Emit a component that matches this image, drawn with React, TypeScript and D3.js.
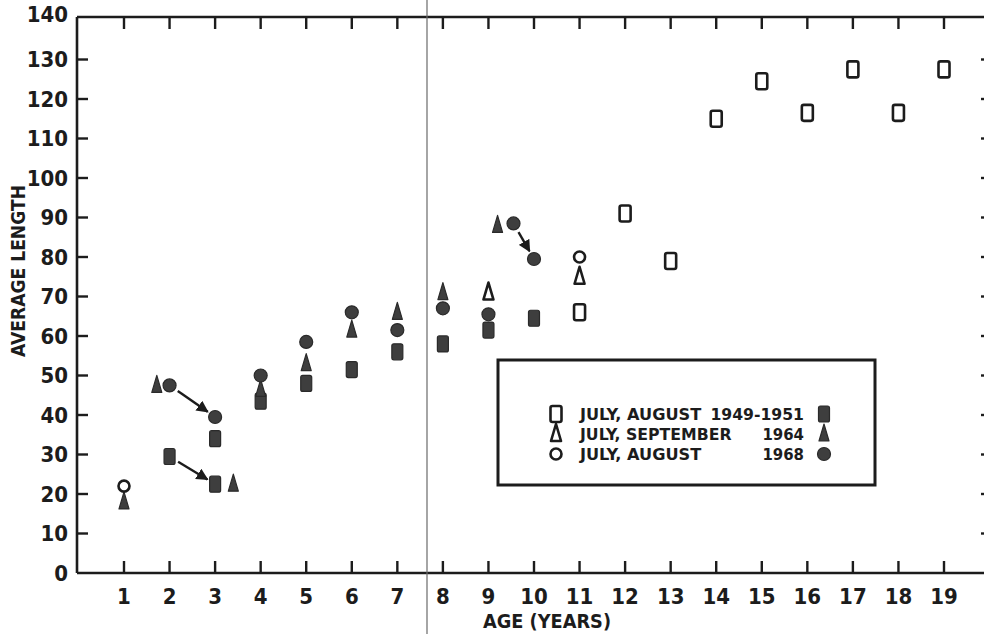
import React from 'react';
import * as d3 from 'd3';

// [age, average length]
const squaresOpen1951: [number, number][] = [
  [11, 66], [12, 91], [13, 79], [14, 115], [15, 124.5], [16, 116.5], [17, 127.5], [18, 116.5], [19, 127.5],
];
const squaresFilled1951: [number, number][] = [
  [2, 29.5], [3, 22.5], [3, 34], [4, 43.5], [5, 48], [6, 51.5], [7, 56], [8, 58], [9, 61.5], [10, 64.5],
];
const trianglesOpen1964: [number, number][] = [[9, 71], [11, 75]];
const trianglesFilled1964: [number, number][] = [
  [1, 18], [1.72, 47.5], [3.4, 22.5], [4, 46.5], [5, 53], [6, 61.5], [7, 66], [8, 71], [9.2, 88],
];
const circlesOpen1968: [number, number][] = [[1, 22], [11, 80]];
const circlesFilled1968: [number, number][] = [
  [2, 47.5], [3, 39.5], [4, 50], [5, 58.5], [6, 66], [7, 61.5], [8, 67], [9, 65.5], [9.55, 88.5], [10, 79.5],
];
// shift arrows: from -> to
const arrows: [[number, number], [number, number]][] = [
  [[2, 47.5], [3, 39.5]],
  [[2, 29.5], [3, 22.5]],
  [[9.55, 88.5], [10, 79.5]],
];

const ageTicks = d3.range(1, 20);
const lengthTicks = d3.range(0, 150, 10);
const legendRows = [
  { shape: 'square', label: 'JULY, AUGUST', years: '1949-1951' },
  { shape: 'triangle', label: 'JULY, SEPTEMBER', years: '1964' },
  { shape: 'circle', label: 'JULY, AUGUST', years: '1968' },
];

const INK = '#1c1c1c';
const FILL = '#3e3e3e';
const FONT = "'DejaVu Sans Condensed', 'DejaVu Sans', sans-serif";

const x = d3.scaleLinear().domain([1, 19]).range([124, 944]);
const y = d3.scaleLinear().domain([0, 140]).range([573, 20]);

const triPath = 'M0,-10 L5,7 L-5,7 Z';

function Marker({ shape, filled, cx, cy }: { shape: string; filled: boolean; cx: number; cy: number }) {
  const fill = filled ? FILL : '#fff';
  const stroke = filled ? '#2a2a2a' : INK;
  const sw = filled ? 1.2 : 2.6;
  if (shape === 'square') {
    return <rect x={cx - 5.5} y={cy - 8} width={11} height={16} rx={2} fill={fill} stroke={stroke} strokeWidth={sw} />;
  }
  if (shape === 'triangle') {
    return <path d={triPath} transform={`translate(${cx},${cy})`} fill={fill} stroke={stroke} strokeWidth={sw} strokeLinejoin="round" />;
  }
  return <circle cx={cx} cy={cy} r={filled ? 6.5 : 5.5} fill={fill} stroke={stroke} strokeWidth={sw} />;
}

export default function App() {
  const series = [
    { data: squaresFilled1951, shape: 'square', filled: true },
    { data: trianglesFilled1964, shape: 'triangle', filled: true },
    { data: circlesFilled1968, shape: 'circle', filled: true },
    { data: squaresOpen1951, shape: 'square', filled: false },
    { data: trianglesOpen1964, shape: 'triangle', filled: false },
    { data: circlesOpen1968, shape: 'circle', filled: false },
  ];

  const left = 77, right = 990, top = 17, bottom = y(0);

  return (
    <svg width={984} height={634} style={{ position: 'absolute', left: 0, top: 0, background: '#fff' }}>
      <defs>
        <marker id="ah" viewBox="0 0 10 10" refX={9} refY={5} markerWidth={5} markerHeight={5} orient="auto">
          <path d="M0,0 L10,5 L0,10 Z" fill={INK} />
        </marker>
      </defs>

      {/* frame */}
      <g stroke={INK} strokeWidth={2.6} fill="none">
        <line x1={left} x2={right} y1={top} y2={top} />
        <line x1={left} x2={right} y1={bottom} y2={bottom} />
        <line x1={left} x2={left} y1={top} y2={bottom} />
        <line x1={right} x2={right} y1={top} y2={bottom} />
      </g>
      <g stroke={INK} strokeWidth={2.4}>
        {ageTicks.map(a => (
          <g key={a}>
            <line x1={x(a)} x2={x(a)} y1={bottom} y2={bottom - 12} />
            <line x1={x(a)} x2={x(a)} y1={top} y2={top + 12} />
          </g>
        ))}
        {lengthTicks.filter(v => v > 0 && v < 140).map(v => (
          <g key={v}>
            <line x1={left} x2={left + 11} y1={y(v)} y2={y(v)} />
            <line x1={right} x2={right - 9} y1={y(v)} y2={y(v)} />
          </g>
        ))}
      </g>

      {/* tick labels */}
      <g fontFamily={FONT} fontWeight="bold" fontSize={22} fill={INK}>
        {ageTicks.map(a => (
          <text key={a} x={x(a)} y={596} textAnchor="middle" dominantBaseline="central">{a}</text>
        ))}
        {lengthTicks.map(v => (
          <text key={v} x={68} y={v === 140 ? 14 : y(v)} textAnchor="end" dominantBaseline="central">{v}</text>
        ))}
      </g>

      {/* axis titles */}
      <text x={547} y={621} textAnchor="middle" dominantBaseline="central" fontFamily={FONT} fontWeight="bold"
        fontSize={20} fill={INK} textLength={128} lengthAdjust="spacingAndGlyphs">AGE (YEARS)</text>
      <text transform="translate(18,271) rotate(-90)" textAnchor="middle" dominantBaseline="central" fontFamily={FONT}
        fontWeight="bold" fontSize={20} fill={INK} textLength={172} lengthAdjust="spacingAndGlyphs">AVERAGE LENGTH</text>

      {/* scan fold line */}
      <line x1={427} x2={427} y1={0} y2={634} stroke="#6a6a6a" strokeWidth={1.2} />

      {/* arrows */}
      <g stroke={INK} strokeWidth={2.4} fill="none">
        {arrows.map(([f, t], i) => {
          const x1 = x(f[0]), y1 = y(f[1]), x2 = x(t[0]), y2 = y(t[1]);
          const len = Math.hypot(x2 - x1, y2 - y1);
          const ux = (x2 - x1) / len, uy = (y2 - y1) / len;
          const s = 10, e = 9;
          return <line key={i} x1={x1 + ux * s} y1={y1 + uy * s} x2={x2 - ux * e} y2={y2 - uy * e} markerEnd="url(#ah)" />;
        })}
      </g>

      {/* points */}
      {series.map((s, i) => (
        <g key={i}>
          {s.data.map(([a, v], j) => (
            <Marker key={j} shape={s.shape} filled={s.filled} cx={x(a)} cy={y(v)} />
          ))}
        </g>
      ))}

      {/* legend */}
      <rect x={498} y={360} width={377} height={125} fill="#fff" stroke={INK} strokeWidth={3} />
      {legendRows.map((r, i) => {
        const cy = 414 + i * 20;
        return (
          <g key={i}>
            <Marker shape={r.shape} filled={false} cx={556} cy={cy} />
            <text x={580} y={cy} dominantBaseline="central" fontFamily={FONT} fontWeight="bold" fontSize={16} fill={INK}
              textLength={r.label.length * 10.1} lengthAdjust="spacingAndGlyphs">{r.label}</text>
            <text x={804} y={cy} textAnchor="end" dominantBaseline="central" fontFamily={FONT} fontWeight="bold" fontSize={16}
              fill={INK} textLength={r.years.length * 10.4} lengthAdjust="spacingAndGlyphs">{r.years}</text>
            <Marker shape={r.shape} filled={true} cx={824} cy={cy} />
          </g>
        );
      })}
    </svg>
  );
}
